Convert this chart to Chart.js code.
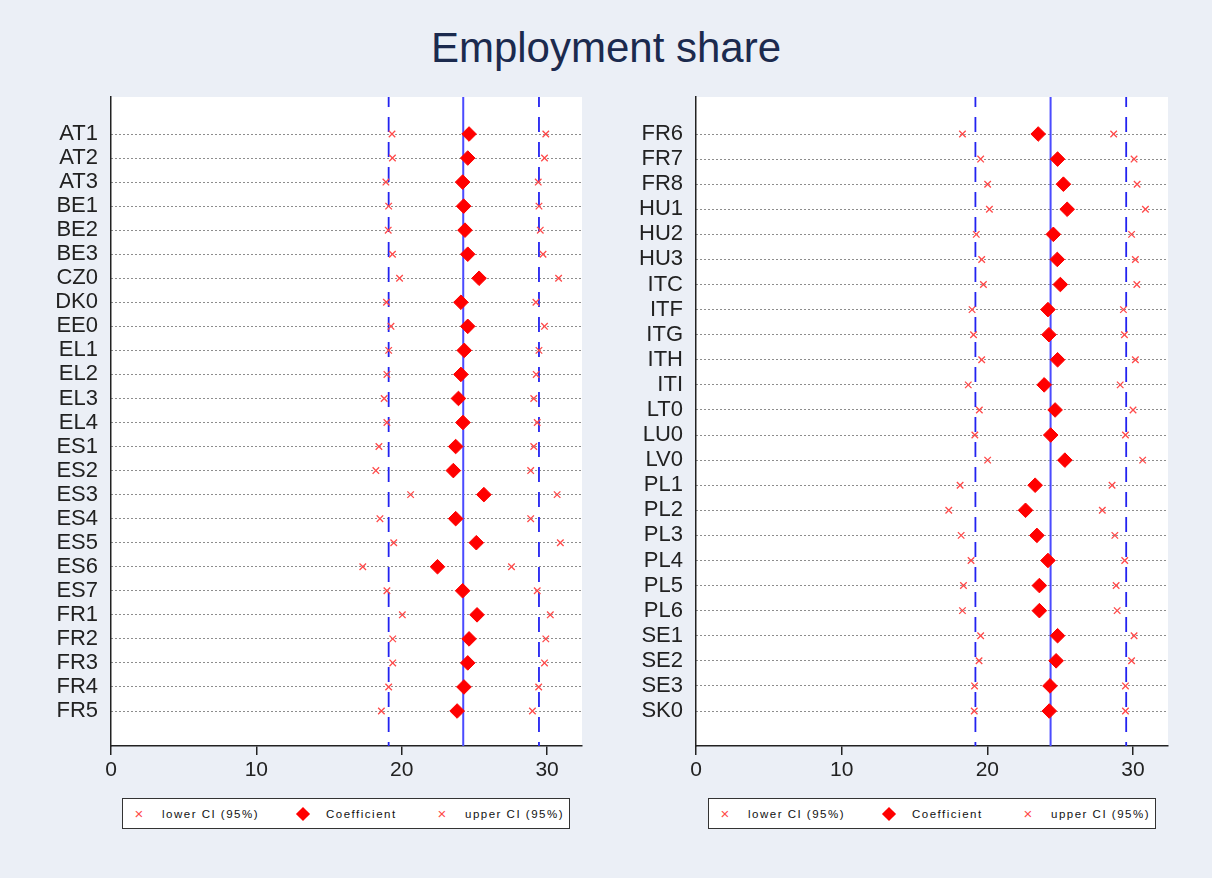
<!DOCTYPE html>
<html>
<head>
<meta charset="utf-8">
<title>Employment share</title>
<script src="https://cdn.jsdelivr.net/npm/chart.js@4"></script>
<style>
  body { margin: 0; background: #ebeff6; font-family: "Liberation Sans", Arial, sans-serif; }
  #wrap { position: relative; width: 1212px; height: 878px; overflow: hidden; }
  h1 {
    position: absolute; top: 27px; left: 0; width: 1212px; margin: 0;
    text-align: center; font-weight: normal; font-size: 42px; line-height: 42px; color: #1b2a4e;
  }
  canvas { position: absolute; top: 0; }
  .legend {
    position: absolute; top: 798px; width: 446px; height: 29px;
    border: 1.5px solid #333; background: #fff;
  }
  .legend span {
    position: absolute; top: 50%; transform: translateY(-50%);
    font-size: 11.5px; letter-spacing: 1.5px; color: #111; white-space: nowrap;
  }
  .legend .cross { color: #ff4a4a; font-size: 15px; letter-spacing: 0; transform: translate(-50%, -52%); }
  .legend .diamond {
    width: 10px; height: 10px; background: #ff0000;
    transform: translate(-50%, -50%) rotate(45deg);
  }
</style>
</head>
<body>
<div id="wrap">
  <h1>Employment share</h1>
  <canvas id="left" width="606" height="796" style="left:0"></canvas>
  <canvas id="right" width="606" height="796" style="left:606px"></canvas>
  <div class="legend" id="legendLeft" style="left:122px"></div>
  <div class="legend" id="legendRight" style="left:708px"></div>
</div>
<script>
// left panel
const regionsLeft = ['AT1', 'AT2', 'AT3', 'BE1', 'BE2', 'BE3', 'CZ0', 'DK0', 'EE0', 'EL1', 'EL2', 'EL3', 'EL4',
  'ES1', 'ES2', 'ES3', 'ES4', 'ES5', 'ES6', 'ES7', 'FR1', 'FR2', 'FR3', 'FR4', 'FR5'];
const lowerLeft = [19.33, 19.36, 18.91, 19.10, 19.07, 19.36, 19.85, 18.95, 19.26, 19.10, 18.98, 18.79, 18.98,
  18.43, 18.22, 20.61, 18.50, 19.45, 17.32, 18.98, 20.04, 19.38, 19.38, 19.10, 18.60];
const coefLeft = [24.63, 24.54, 24.19, 24.26, 24.35, 24.54, 25.32, 24.07, 24.54, 24.30, 24.07, 23.90, 24.21,
  23.71, 23.55, 25.65, 23.71, 25.13, 22.46, 24.19, 25.18, 24.63, 24.54, 24.28, 23.81];
const upperLeft = [29.91, 29.82, 29.39, 29.44, 29.53, 29.72, 30.79, 29.23, 29.82, 29.44, 29.25, 29.08, 29.32,
  29.08, 28.87, 30.69, 28.87, 30.91, 27.55, 29.32, 30.22, 29.91, 29.82, 29.42, 28.99];
const refLeft = [19.10, 24.23, 29.44];

// right panel
const regionsRight = ['FR6', 'FR7', 'FR8', 'HU1', 'HU2', 'HU3', 'ITC', 'ITF', 'ITG', 'ITH', 'ITI', 'LT0', 'LU0',
  'LV0', 'PL1', 'PL2', 'PL3', 'PL4', 'PL5', 'PL6', 'SE1', 'SE2', 'SE3', 'SK0'];
const lowerRight = [18.29, 19.54, 20.02, 20.14, 19.24, 19.61, 19.73, 18.95, 19.05, 19.61, 18.69, 19.45, 19.14,
  20.02, 18.13, 17.35, 18.20, 18.88, 18.36, 18.29, 19.54, 19.43, 19.12, 19.10];
const coefRight = [23.49, 24.82, 25.22, 25.48, 24.53, 24.80, 25.01, 24.16, 24.23, 24.82, 23.90, 24.65, 24.35,
  25.32, 23.28, 22.62, 23.40, 24.16, 23.57, 23.57, 24.82, 24.72, 24.30, 24.25];
const upperRight = [28.67, 30.07, 30.28, 30.85, 29.90, 30.16, 30.26, 29.34, 29.41, 30.16, 29.12, 30.00, 29.48,
  30.66, 28.56, 27.89, 28.75, 29.43, 28.84, 28.91, 30.07, 29.90, 29.48, 29.48];
const refRight = [19.18, 24.34, 29.53];

const xTicks = [0, 10, 20, 30];
const xMax = 32.4;

// y runs 1..n from the top, one row per region; a margin of
// about 1.5 rows above the first and 1.4 rows below the last
function yRange(n) {
  const span = (n - 1) * 649 / 577;
  const min = 1 - span * 37 / 649;
  return { min: min, max: min + span };
}

function rows(values) {
  return values.map((v, i) => ({ x: v, y: i + 1 }));
}

function refLine(x, dashed, yr) {
  return {
    data: [{ x: x, y: yr.min }, { x: x, y: yr.max }],
    showLine: true,
    pointRadius: 0,
    borderWidth: dashed ? 1.8 : 2,
    borderColor: dashed ? '#2323f0' : '#4b4bff',
    borderDash: dashed ? [15, 10] : [],
    borderDashOffset: dashed ? 5 : 0
  };
}

const plotBackground = {
  id: 'plotBackground',
  beforeDraw(chart) {
    const a = chart.chartArea;
    chart.ctx.save();
    chart.ctx.fillStyle = '#ffffff';
    chart.ctx.fillRect(a.left, a.top, a.right - a.left, a.bottom - a.top);
    chart.ctx.restore();
  }
};

function makeChart(id, names, lower, coef, upper, ref, axisWidth, padRight) {
  const yr = yRange(names.length);
  const crossStyle = {
    pointStyle: 'crossRot',
    pointRadius: 4.6,
    borderColor: '#ff4a4a',
    backgroundColor: '#ff4a4a',
    pointBorderWidth: 1.3
  };
  return new Chart(document.getElementById(id), {
    type: 'scatter',
    data: {
      datasets: [
        Object.assign({ label: 'lower CI (95%)', data: rows(lower) }, crossStyle),
        {
          label: 'Coefficient',
          data: rows(coef),
          pointStyle: 'rectRot',
          pointRadius: 7.3,
          backgroundColor: '#ff0000',
          borderColor: '#ff0000',
          pointBorderWidth: 1
        },
        Object.assign({ label: 'upper CI (95%)', data: rows(upper) }, crossStyle),
        refLine(ref[0], true, yr),
        refLine(ref[1], false, yr),
        refLine(ref[2], true, yr)
      ]
    },
    options: {
      responsive: false,
      animation: false,
      events: [],
      layout: { padding: { left: 0, top: 97, right: padRight, bottom: 0 } },
      plugins: { legend: { display: false }, tooltip: { enabled: false } },
      scales: {
        x: {
          type: 'linear',
          min: 0,
          max: xMax,
          afterBuildTicks: s => { s.ticks = xTicks.map(v => ({ value: v })); },
          afterFit: s => { s.height = 50; },
          grid: { drawOnChartArea: false, drawTicks: true, tickLength: 9, tickColor: '#222', lineWidth: 1.5 },
          border: { color: '#222', width: 1.5 },
          ticks: { color: '#222', font: { size: 21, family: 'Liberation Sans' }, padding: 3 }
        },
        y: {
          type: 'linear',
          reverse: true,
          min: yr.min,
          max: yr.max,
          afterBuildTicks: s => { s.ticks = names.map((n, i) => ({ value: i + 1 })); },
          afterFit: s => { s.width = axisWidth; },
          grid: { color: '#1a1a1a', lineWidth: 1, drawTicks: false },
          border: { color: '#222', width: 1.5, dash: [1, 3] },
          ticks: {
            autoSkip: false,
            color: '#222',
            padding: 13,
            font: { size: 22, family: 'Liberation Sans' },
            callback: v => names[v - 1] || ''
          }
        }
      }
    },
    plugins: [plotBackground]
  });
}

makeChart('left', regionsLeft, lowerLeft, coefLeft, upperLeft, refLeft, 111, 24);
makeChart('right', regionsRight, lowerRight, coefRight, upperRight, refRight, 90, 44);

function fillLegend(id) {
  const box = document.getElementById(id);
  box.innerHTML =
    '<span class="cross" style="left:16px">\u00d7</span>' +
    '<span style="left:39px">lower CI (95%)</span>' +
    '<span class="diamond" style="left:180px"></span>' +
    '<span style="left:203px">Coefficient</span>' +
    '<span class="cross" style="left:319px">\u00d7</span>' +
    '<span style="left:342px">upper CI (95%)</span>';
}
fillLegend('legendLeft');
fillLegend('legendRight');
</script>
</body>
</html>
